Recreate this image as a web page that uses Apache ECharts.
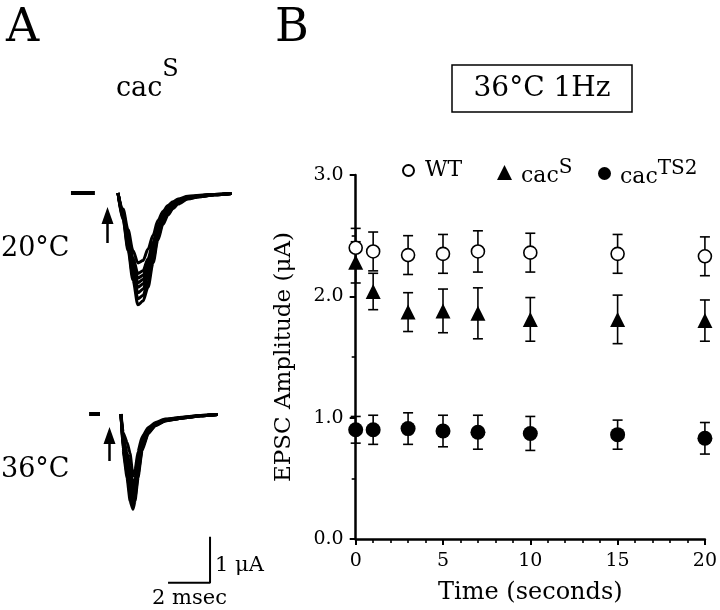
<!DOCTYPE html>
<html>
<head>
<meta charset="utf-8">
<script src="https://cdn.jsdelivr.net/npm/echarts@6/dist/echarts.min.js"></script>
<style>html,body{margin:0;padding:0;background:#fff;}#c{width:720px;height:610px;}</style>
</head>
<body>
<div id="c"></div>
<script>
// ---------- Panel B data (EPSC amplitude, µA) ----------
var timeSec   = [0, 1, 3, 5, 7, 10, 15, 20];
var wtMean    = [2.40, 2.37, 2.34, 2.35, 2.37, 2.36, 2.35, 2.33];
var wtSem     = [0.16, 0.16, 0.16, 0.16, 0.17, 0.16, 0.16, 0.16];
var cacSMean  = [2.28, 2.04, 1.87, 1.88, 1.86, 1.81, 1.81, 1.80];
var cacSSem   = [0.17, 0.15, 0.16, 0.18, 0.21, 0.18, 0.20, 0.17];
var ts2Mean   = [0.90, 0.90, 0.91, 0.89, 0.88, 0.87, 0.86, 0.83];
var ts2Sem    = [0.11, 0.12, 0.13, 0.13, 0.14, 0.14, 0.12, 0.13];
var yTicks    = [0, 1, 2, 3];
var xTicks    = [0, 5, 10, 15, 20];

// ---------- Panel A traces (time ms, current µA) ----------
var t20 = [0, 0.24, 0.48, 0.71, 0.95, 1.19, 1.43, 1.67, 1.90, 2.14, 2.38, 2.62, 2.86, 3.33, 3.9, 4.6, 5.4];
var tr20a = [0,-0.35,-0.80,-1.25,-1.52,-1.47,-1.22,-0.92,-0.60,-0.40,-0.27,-0.19,-0.13,-0.07,-0.05,-0.03,-0.01];
var tr20b = [0,-0.41,-0.91,-1.41,-1.75,-1.69,-1.43,-1.07,-0.71,-0.47,-0.32,-0.23,-0.16,-0.09,-0.06,-0.03,-0.01];
var tr20c = [0,-0.43,-0.96,-1.48,-1.85,-1.79,-1.52,-1.14,-0.75,-0.50,-0.35,-0.24,-0.17,-0.09,-0.06,-0.03,-0.01];
var tr20d = [0,-0.46,-1.01,-1.55,-1.95,-1.88,-1.61,-1.20,-0.80,-0.53,-0.37,-0.26,-0.18,-0.10,-0.06,-0.03,-0.01];
var tr20e = [0,-0.48,-1.06,-1.62,-2.05,-1.98,-1.70,-1.27,-0.84,-0.56,-0.39,-0.28,-0.19,-0.10,-0.07,-0.04,-0.01];
var tr20f = [0,-0.51,-1.12,-1.70,-2.17,-2.09,-1.81,-1.35,-0.90,-0.60,-0.42,-0.30,-0.21,-0.11,-0.07,-0.04,-0.01];
var tr20g = [0,-0.55,-1.19,-1.80,-2.30,-2.23,-1.93,-1.44,-0.96,-0.64,-0.45,-0.32,-0.22,-0.12,-0.08,-0.04,-0.01];
var tr20h = [0,-0.58,-1.25,-1.89,-2.43,-2.35,-2.05,-1.52,-1.02,-0.68,-0.48,-0.34,-0.24,-0.13,-0.08,-0.04,-0.01];
var base20 = [[-2.24, 0], [-1.1, 0]];

var t36 = [0, 0.1, 0.29, 0.43, 0.57, 0.67, 0.81, 1.0, 1.29, 1.62, 2.1, 2.9, 3.8, 4.6];
var tr36a = [0,-0.40,-0.62,-0.85,-1.35,-1.22,-0.82,-0.50,-0.30,-0.19,-0.11,-0.07,-0.03,-0.01];
var tr36b = [0,-0.51,-0.84,-1.14,-1.55,-1.41,-0.98,-0.58,-0.34,-0.21,-0.12,-0.08,-0.03,-0.01];
var tr36c = [0,-0.57,-0.94,-1.29,-1.65,-1.50,-1.06,-0.63,-0.35,-0.22,-0.13,-0.08,-0.03,-0.01];
var tr36d = [0,-0.62,-1.05,-1.43,-1.75,-1.60,-1.14,-0.67,-0.37,-0.23,-0.13,-0.08,-0.04,-0.01];
var tr36e = [0,-0.67,-1.14,-1.55,-1.83,-1.67,-1.20,-0.70,-0.39,-0.24,-0.14,-0.08,-0.04,-0.01];
var tr36f = [0,-0.70,-1.21,-1.64,-1.90,-1.73,-1.25,-0.73,-0.40,-0.24,-0.14,-0.09,-0.04,-0.01];
var tr36g = [0,-0.75,-1.29,-1.76,-1.98,-1.81,-1.32,-0.76,-0.41,-0.25,-0.15,-0.09,-0.04,-0.01];
var tr36h = [0,-0.80,-1.39,-1.89,-2.07,-1.89,-1.39,-0.80,-0.43,-0.26,-0.15,-0.09,-0.04,-0.01];
var base36 = [[-1.52, 0], [-1.0, 0]];

// scale bar: 2 msec by 1 µA
var barMs = 2, barUA = 1, barT0 = 2.24, barI0 = -3.67;

var FONT = 'DejaVu Serif';
var chart = echarts.init(document.getElementById('c'), null, {renderer: 'canvas'});

function pairs(xs, ys) { return xs.map(function (x, i) { return [x, ys[i]]; }); }
function traceSeries(xs, ys, gi, sm) {
  return {type: 'line', xAxisIndex: gi, yAxisIndex: gi, data: pairs(xs, ys), showSymbol: false,
    symbol: 'none', smooth: sm, smoothMonotone: 'x', silent: true,
    lineStyle: {color: '#000', width: 3}, z: 3};
}
function errSeries(means, sems) {
  return {type: 'custom', xAxisIndex: 2, yAxisIndex: 2, z: 2, silent: true,
    data: timeSec.map(function (t, i) { return [t, means[i] - sems[i], means[i] + sems[i]]; }),
    renderItem: function (params, api) {
      var top = api.coord([api.value(0), api.value(2)]);
      var bot = api.coord([api.value(0), api.value(1)]);
      var w = 5, st = {stroke: '#000', lineWidth: 1.6};
      return {type: 'group', children: [
        {type: 'line', shape: {x1: top[0], y1: top[1], x2: bot[0], y2: bot[1]}, style: st},
        {type: 'line', shape: {x1: top[0] - w, y1: top[1], x2: top[0] + w, y2: top[1]}, style: st},
        {type: 'line', shape: {x1: bot[0] - w, y1: bot[1], x2: bot[0] + w, y2: bot[1]}, style: st}
      ]};
    }
  };
}

var series = [];
[tr20a, tr20b, tr20c, tr20d, tr20e, tr20f, tr20g, tr20h].forEach(function (a) { series.push(traceSeries(t20, a, 0, 0.3)); });
series.push({type: 'line', xAxisIndex: 0, yAxisIndex: 0, data: base20, showSymbol: false, symbol: 'none', lineStyle: {color: '#000', width: 4}});
[tr36a, tr36b, tr36c, tr36d, tr36e, tr36f, tr36g, tr36h].forEach(function (a) { series.push(traceSeries(t36, a, 1, 0.15)); });
series.push({type: 'line', xAxisIndex: 1, yAxisIndex: 1, data: base36, showSymbol: false, symbol: 'none', lineStyle: {color: '#000', width: 4}});
series.push({type: 'line', xAxisIndex: 1, yAxisIndex: 1, showSymbol: false, symbol: 'none',
  data: [[barT0, barI0], [barT0 + barMs, barI0], [barT0 + barMs, barI0 + barUA]],
  lineStyle: {color: '#000', width: 2}});

series.push(errSeries(wtMean, wtSem));
series.push(errSeries(cacSMean, cacSSem));
series.push(errSeries(ts2Mean, ts2Sem));
series.push({name: 'WT', type: 'scatter', xAxisIndex: 2, yAxisIndex: 2, z: 5, symbol: 'circle', symbolSize: 13,
  data: pairs(timeSec, wtMean), itemStyle: {color: '#fff', borderColor: '#000', borderWidth: 1.6, opacity: 1}});
series.push({name: 'cacS', type: 'scatter', xAxisIndex: 2, yAxisIndex: 2, z: 4, symbol: 'triangle', symbolSize: 15,
  data: pairs(timeSec, cacSMean), itemStyle: {color: '#000', opacity: 1}});
series.push({name: 'cacTS2', type: 'scatter', xAxisIndex: 2, yAxisIndex: 2, z: 4, symbol: 'circle', symbolSize: 15,
  data: pairs(timeSec, ts2Mean), itemStyle: {color: '#000', opacity: 1}});

var legRich = {
  w: {fontFamily: FONT, fontSize: 22, color: '#000', lineHeight: 22, padding: [0, 0, 0, 6]},
  n: {fontFamily: FONT, fontSize: 22, color: '#000', verticalAlign: 'bottom', lineHeight: 30, padding: [0, 0, 0, 4]},
  s: {fontFamily: FONT, fontSize: 20, color: '#000', verticalAlign: 'top', lineHeight: 30}
};
function mkLegend(name, left, size, fmt) {
  return {data: [name], left: left, top: 165 - size / 2, itemWidth: size, itemHeight: size, itemGap: 0,
    selectedMode: false, padding: 0,
    textStyle: {fontFamily: FONT, fontSize: 22, color: '#000', rich: legRich},
    formatter: fmt};
}

var option = {
  animation: false,
  backgroundColor: '#fff',
  grid: [
    {left: 55, top: 174.6, width: 189, height: 138},
    {left: 58, top: 395.6, width: 189, height: 202.4},
    {left: 355.7, top: 175, width: 352.3, height: 370}
  ],
  xAxis: [
    {gridIndex: 0, type: 'value', min: -3, max: 6, show: false},
    {gridIndex: 1, type: 'value', min: -3, max: 6, show: false},
    {gridIndex: 2, type: 'value', min: xTicks[0], max: xTicks[xTicks.length - 1], interval: 5,
      axisLine: {lineStyle: {color: '#000', width: 2.5}, onZero: false},
      axisTick: {show: true, length: 6, lineStyle: {color: '#000', width: 2}},
      minorTick: {show: true, splitNumber: 5, length: 4, lineStyle: {color: '#000', width: 1.6}},
      splitLine: {show: false}, minorSplitLine: {show: false},
      axisLabel: {fontFamily: FONT, fontSize: 19, color: '#000', margin: 13},
      name: 'Time (seconds)', nameLocation: 'middle', nameGap: 42,
      nameTextStyle: {fontFamily: FONT, fontSize: 24, color: '#000'}}
  ],
  yAxis: [
    {gridIndex: 0, type: 'value', min: -2.6, max: 0.4, show: false},
    {gridIndex: 1, type: 'value', min: -4, max: 0.4, show: false},
    {gridIndex: 2, type: 'value', min: yTicks[0], max: yTicks[yTicks.length - 1], interval: 1,
      axisLine: {show: true, lineStyle: {color: '#000', width: 2.5}, onZero: false},
      axisTick: {show: true, length: 6, lineStyle: {color: '#000', width: 2}},
      minorTick: {show: true, splitNumber: 2, length: 4, lineStyle: {color: '#000', width: 1.6}},
      splitLine: {show: false}, minorSplitLine: {show: false},
      axisLabel: {fontFamily: FONT, fontSize: 19, color: '#000', margin: 12,
        formatter: function (v) { return v.toFixed(1); }},
      name: 'EPSC Amplitude (μA)', nameLocation: 'middle', nameGap: 60,
      nameTextStyle: {fontFamily: FONT, fontSize: 23, color: '#000'}}
  ],
  legend: [
    mkLegend('WT', 402, 11, function () { return '{w|WT}'; }),
    mkLegend('cacS', 497, 15, function () { return '{n|cac}{s|S}'; }),
    mkLegend('cacTS2', 598, 13, function () { return '{n|cac}{s|TS2}'; })
  ],
  graphic: [
    {type: 'text', left: 6, top: 6, style: {text: 'A', fontFamily: FONT, fontSize: 46, fill: '#000'}},
    {type: 'text', left: 275, top: 6, style: {text: 'B', fontFamily: FONT, fontSize: 46, fill: '#000'}},
    {type: 'text', left: 116, top: 58, style: {text: '{b|cac}{s|S}',
      rich: {b: {fontFamily: FONT, fontSize: 27, fill: '#000', verticalAlign: 'bottom', lineHeight: 44},
             s: {fontFamily: FONT, fontSize: 24, fill: '#000', verticalAlign: 'top', lineHeight: 44}}}},
    {type: 'text', left: 1, top: 235, style: {text: '20°C', fontFamily: FONT, fontSize: 27, fill: '#000'}},
    {type: 'text', left: 1, top: 456, style: {text: '36°C', fontFamily: FONT, fontSize: 27, fill: '#000'}},
    {type: 'text', left: 215, top: 555, style: {text: '1 μA', fontFamily: FONT, fontSize: 21, fill: '#000'}},
    {type: 'text', left: 152, top: 588, style: {text: '2 msec', fontFamily: FONT, fontSize: 21, fill: '#000'}},
    {type: 'rect', shape: {x: 452, y: 65, width: 180, height: 47}, style: {fill: '#fff', stroke: '#000', lineWidth: 1.5}},
    {type: 'text', x: 542, y: 89, style: {text: '36°C 1Hz', fontFamily: FONT, fontSize: 28, fill: '#000', align: 'center', verticalAlign: 'middle'}},
    // stimulus arrows
    {type: 'polygon', shape: {points: [[101.5, 224], [107.5, 207], [113.5, 224]]}, style: {fill: '#000'}},
    {type: 'line', shape: {x1: 107.5, y1: 222, x2: 107.5, y2: 243}, style: {stroke: '#000', lineWidth: 2.5}},
    {type: 'polygon', shape: {points: [[103.5, 444], [109.5, 427], [115.5, 444]]}, style: {fill: '#000'}},
    {type: 'line', shape: {x1: 109.5, y1: 442, x2: 109.5, y2: 461}, style: {stroke: '#000', lineWidth: 2.5}}
  ],
  series: series
};
chart.setOption(option);
</script>
</body>
</html>
